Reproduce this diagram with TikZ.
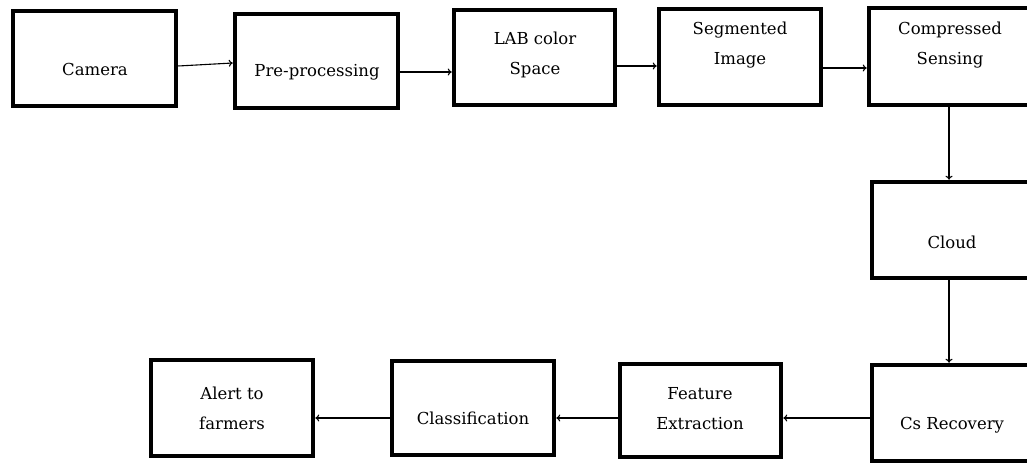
\documentclass[tikz,border=0pt]{standalone}
\usepackage{fontspec}
\setmainfont{DejaVu Serif}
\usetikzlibrary{arrows.meta}
\begin{document}
\begin{tikzpicture}[x=1pt,y=-1pt,
  box/.style={draw, line width=4.5pt, inner sep=0pt, minimum width=162pt, minimum height=95pt},
  lbl/.style={font=\fontsize{16.5}{30}\selectfont, align=center, inner sep=0pt},
  arr/.style={line width=1.1pt, -{To[length=4pt,width=7pt]}}]
\useasboundingbox (0,0) rectangle (1027,463);
\clip (0,0) rectangle (1027,463);
% boxes
\node[box, minimum width=163pt, minimum height=95pt] (cam) at (94.5,58.5) {};
\node[box, minimum width=163pt, minimum height=94pt] (pre) at (316.5,61) {};
\node[box, minimum width=161pt, minimum height=95pt] (lab) at (534.5,57.5) {};
\node[box, minimum width=162pt, minimum height=96pt] (seg) at (740,57) {};
\node[box, minimum width=163pt, minimum height=97pt] (comp) at (950.5,56.5) {};
\node[box, minimum width=160pt, minimum height=96pt] (cloud) at (952,230) {};
\node[box, minimum width=160pt, minimum height=96pt] (cs) at (952,413) {};
\node[box, minimum width=161pt, minimum height=93pt] (feat) at (700.5,410.5) {};
\node[box, minimum width=162pt, minimum height=94pt] (cls) at (473,408) {};
\node[box, minimum width=162pt, minimum height=96pt] (alert) at (232,408) {};
% labels
\node[lbl] (tcam) at (95,69) {Camera};
\node[lbl] (tpre) at (317,72) {Pre-processing};
\node[lbl] (tlab) at (535,55) {LAB color\\Space};
\node[lbl] (tseg) at (740,45) {Segmented\\Image};
\node[lbl] (tcomp) at (950,45) {Compressed\\Sensing};
\node[lbl] (tcloud) at (952,242) {Cloud};
\node[lbl] (tcs) at (952,425) {Cs Recovery};
\node[lbl] (tfeat) at (700,409) {Feature\\Extraction};
\node[lbl] (tcls) at (473,418) {Classification};
\node[lbl] (talert) at (232,408.5) {Alert to\\farmers};
% connectors
\draw[arr] ([yshift=-7.5pt]cam.east) -- ([yshift=-2pt]pre.west);
\draw[arr] ([yshift=-11pt]pre.east) -- ([yshift=-14.5pt]lab.west);
\draw[arr] ([yshift=-8.5pt]lab.east) -- ([yshift=-9pt]seg.west);
\draw[arr] ([yshift=-11pt]seg.east) -- ([yshift=-11.5pt]comp.west);
\draw[arr] ([xshift=-1.5pt]comp.south) -- ([xshift=-3pt]cloud.north);
\draw[arr] ([xshift=-3pt]cloud.south) -- ([xshift=-3pt]cs.north);
\draw[arr] ([yshift=-5pt]cs.west) -- ([yshift=-7.5pt]feat.east);
\draw[arr] ([yshift=-7.5pt]feat.west) -- ([yshift=-10pt]cls.east);
\draw[arr] ([yshift=-10pt]cls.west) -- ([yshift=-10pt]alert.east);
\end{tikzpicture}
\end{document}
